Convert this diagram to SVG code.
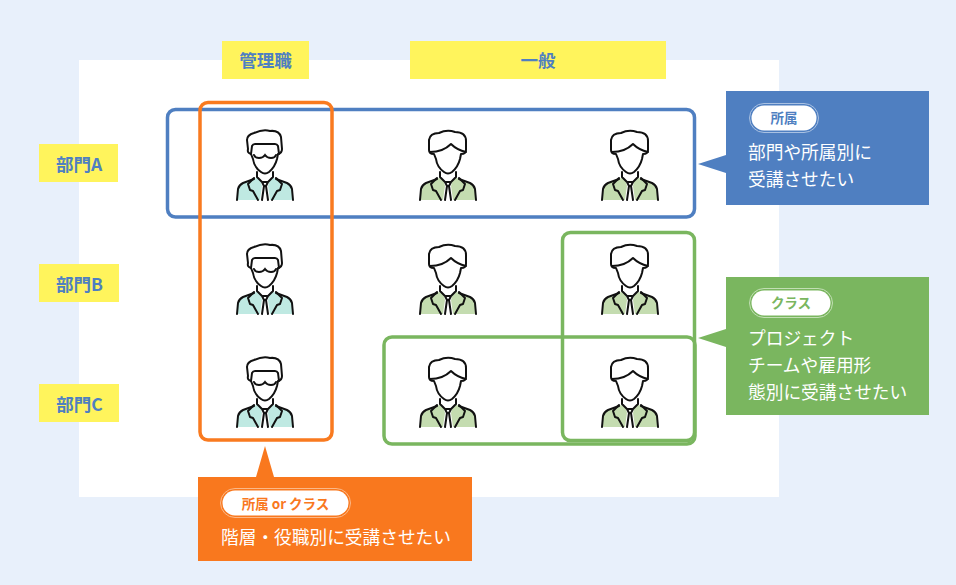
<svg xmlns="http://www.w3.org/2000/svg" xmlns:xlink="http://www.w3.org/1999/xlink" width="956" height="585" viewBox="0 0 956 585">
<style>
text{font-family:"Noto Sans CJK JP","Noto Sans",sans-serif}
.lab{fill:#fff45c}
.lt{fill:#4f7fc1;font-size:17.500px;font-weight:700;text-anchor:middle}
.w{fill:#fff;font-size:17.700px}
.pill{fill:#fff}
.ring{fill:none;stroke-width:1}
.pt{font-size:13.500px;font-weight:700;text-anchor:middle}
.frame{fill:none;stroke-width:3.500}
.ln{fill:none;stroke:#111;stroke-width:2;stroke-linejoin:round;stroke-linecap:round}
</style>
<defs>
<g id="body">
<path d="M-28 35L-27 24Q-26 20-22 18L-9 13L0 16L9 13L22 18Q26 20 27 24L28 35Z" fill="var(--c)"/>
<path d="M-8 13L0 19L8 13L8 8L-8 8Z" fill="#fff"/>
<path d="M-4 17L4 17L3 21L5 35L-5 35L-3 21Z" fill="#fff"/>
<path d="M-14 35L-18 21L-10 13L-5 35ZM14 35L18 21L10 13L5 35Z" fill="var(--c)"/>
<path class="ln" d="M-28 35L-27 24Q-26 20-22 18L-11 14M28 35L27 24Q26 20 22 18L11 14"/>
<path class="ln" d="M-8 7V12L-3 17H3L8 12V7M-3 17L-1 21H1L3 17M-1 21L-3 35M1 21L3 35M-11 13L-17 19L-15 25L-12 26L-7 35M11 13L17 19L15 25L12 26L7 35"/>
</g>
<g id="mgr">
<use xlink:href="#body" style="--c:#bfe9e2"/>
<path class="ln" d="M-14-11Q-18-12-17-16L-18-25Q-18-30-11-32Q-2-36 5-34Q14-35 16-28L17-16Q17-12 13-11L12-6Q10 2 4 7Q0 10-4 7Q-11 2-12-6Z"/>
<path class="ln" d="M-14-11L-13-19Q-12-21-10-21H10Q12-21 13-19L14-11"/>
<path d="M-11-10Q-10-7-6-7Q-2-7 0-10Q2-7 6-7Q10-7 11-10" fill="none" stroke="#111" stroke-width="2" stroke-linecap="round"/>
</g>
<g id="gen">
<use xlink:href="#body" style="--c:#c4dcb0"/>
<path class="ln" d="M-14-11Q-19-11-19-15L-19-25Q-18-32-9-32Q-1-36 7-33Q18-33 18-24L18-15Q18-11 13-11L12-6Q10 2 4 7Q0 10-4 7Q-11 2-12-6Z"/>
<path class="ln" d="M-18-13Q-5-13 3-21Q9-15 18-13"/>
</g>
</defs>
<rect width="956" height="585" fill="#e8f0fb"/>
<rect x="79" y="60" width="700" height="437" fill="#fff"/>
<g id="labels">
<g id="label-kanri"><rect class="lab" x="222" y="41" width="87" height="38"/><text class="lt" x="265.500" y="67">管理職</text></g>
<g id="label-ippan"><rect class="lab" x="410" y="41" width="256" height="38"/><text class="lt" x="538" y="67">一般</text></g>
<g id="label-a"><rect class="lab" x="39" y="144" width="79" height="38"/><text class="lt" x="79" y="171">部門A</text></g>
<g id="label-b"><rect class="lab" x="39" y="264" width="80" height="38"/><text class="lt" x="79.500" y="291">部門B</text></g>
<g id="label-c"><rect class="lab" x="39" y="384" width="80" height="38"/><text class="lt" x="79.500" y="411">部門C</text></g>
</g>
<g id="people">
<g id="p-a1"><use xlink:href="#mgr" x="265" y="165"/></g>
<g id="p-a2"><use xlink:href="#gen" x="448" y="165"/></g>
<g id="p-a3"><use xlink:href="#gen" x="630" y="165"/></g>
<g id="p-b1"><use xlink:href="#mgr" x="265" y="279"/></g>
<g id="p-b2"><use xlink:href="#gen" x="448" y="279"/></g>
<g id="p-b3"><use xlink:href="#gen" x="630" y="279"/></g>
<g id="p-c1"><use xlink:href="#mgr" x="265" y="392"/></g>
<g id="p-c2"><use xlink:href="#gen" x="448" y="392"/></g>
<g id="p-c3"><use xlink:href="#gen" x="630" y="392"/></g>
</g>
<g id="connectors">
<rect class="frame" x="167.500" y="109.500" width="527" height="107.500" rx="8" stroke="#4f7fc1"/>
<rect class="frame" x="200" y="102.500" width="132" height="337.500" rx="8" stroke="#f97a1f"/>
<rect class="frame" x="562.500" y="232.500" width="132" height="208" rx="8" stroke="#7ab65f"/>
<rect class="frame" x="384" y="337" width="311" height="107" rx="8" stroke="#7ab65f"/>
</g>
<g id="callout-blue">
<path d="M726 91H929V205H726V173L698 164L726 155Z" fill="#4f7fc1"/>
<rect class="ring" x="749.500" y="103.500" width="69" height="29" rx="14.500" stroke="#a9c1e2"/>
<rect class="pill" x="751.500" y="105.500" width="65" height="25" rx="12.500"/>
<text class="pt" x="784" y="123" fill="#4f7fc1">所属</text>
<text class="w" x="748" y="159">部門や所属別に</text>
<text class="w" x="748" y="186">受講させたい</text>
</g>
<g id="callout-green">
<path d="M726 277H929V415H726V347L698 338L726 329Z" fill="#7ab65f"/>
<rect class="ring" x="749.500" y="288.500" width="83" height="29" rx="14.500" stroke="#c2dfb4"/>
<rect class="pill" x="751.500" y="290.500" width="79" height="25" rx="12.500"/>
<text class="pt" x="791" y="308" fill="#7ab65f">クラス</text>
<text class="w" x="748" y="345">プロジェクト</text>
<text class="w" x="748" y="372">チームや雇用形</text>
<text class="w" x="748" y="399">態別に受講させたい</text>
</g>
<g id="callout-orange">
<path d="M198 477H256L265 446L274 477H472V561H198Z" fill="#f9781e"/>
<rect class="ring" x="220.500" y="488.500" width="130" height="29" rx="14.500" stroke="#fbb888"/>
<rect class="pill" x="222.500" y="490.500" width="126" height="25" rx="12.500"/>
<text class="pt" x="285.500" y="509" fill="#f9781e">所属 or クラス</text>
<text class="w" x="221" y="544">階層・役職別に受講させたい</text>
</g>
</svg>
